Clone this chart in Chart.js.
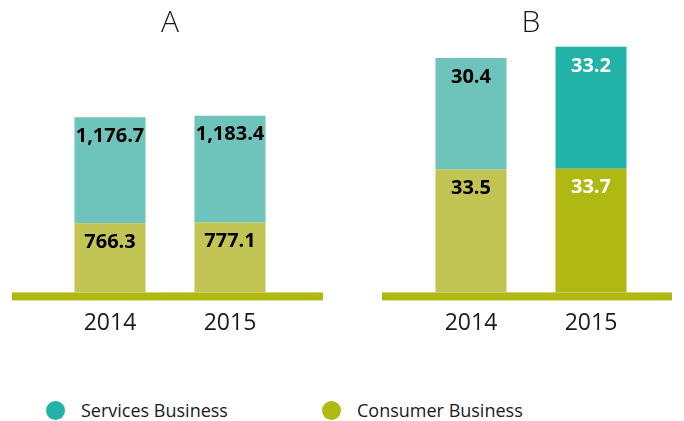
<!DOCTYPE html>
<html>
<head>
<meta charset="utf-8">
<script src="https://cdn.jsdelivr.net/npm/chart.js@4/dist/chart.umd.min.js"></script>
<style>
    html, body { margin: 0; padding: 0; background: #ffffff; }
    body { width: 684px; height: 421px; position: relative; overflow: hidden; font-family: "Open Sans", sans-serif; }
    .panel { position: absolute; top: 0; width: 342px; height: 354px; }
    #panelA { left: 0; }
    #panelB { left: 342px; }
    .legend-item { position: absolute; top: 398px; display: flex; align-items: center; font-size: 18px; color: #1a1a1a; }
    .legend-item .dot { width: 19px; height: 19px; border-radius: 50%; margin-right: 16px; }
</style>
</head>
<body>
<div class="panel" id="panelA"><canvas id="chartA"></canvas></div>
<div class="panel" id="panelB"><canvas id="chartB"></canvas></div>
<div class="legend-item" style="left:46px"><span class="dot" style="background:#22b2a8"></span>Services Business</div>
<div class="legend-item" style="left:322px"><span class="dot" style="background:#b0b812"></span>Consumer Business</div>

<script>
const years = ['2014', '2015'];
const panelTitles = ['A', 'B'];
const consumerA = [766.3, 777.1];
const servicesA = [1176.7, 1183.4];
const consumerB = [33.5, 33.7];
const servicesB = [30.4, 33.2];

const colors = {
    servicesLight: '#6ec4ba',
    servicesDark: '#22b2a8',
    consumerLight: '#c2c453',
    consumerDark: '#b0b812',
    baseline: '#b0b812',
    text: '#1a1a1a'
};

function formatValue(value) {
    return value.toLocaleString('en-US', { minimumFractionDigits: 1, maximumFractionDigits: 1 });
}

const baselinePlugin = {
    id: 'baseline',
    beforeDatasetsDraw(chart, args, opts) {
        const ctx = chart.ctx;
        const y = chart.scales.y.getPixelForValue(0);
        ctx.save();
        ctx.fillStyle = colors.baseline;
        ctx.fillRect(opts.left, y, opts.right - opts.left, 8);
        ctx.restore();
    }
};

const valueLabelPlugin = {
    id: 'valueLabels',
    afterDatasetsDraw(chart) {
        const ctx = chart.ctx;
        ctx.save();
        ctx.font = 'bold 20px "Open Sans", sans-serif';
        ctx.textAlign = 'center';
        ctx.textBaseline = 'middle';
        chart.data.datasets.forEach(function (dataset, di) {
            const meta = chart.getDatasetMeta(di);
            meta.data.forEach(function (bar, i) {
                ctx.fillStyle = dataset.labelColors[i];
                ctx.fillText(formatValue(dataset.data[i]), bar.x, bar.y + 19);
            });
        });
        ctx.restore();
    }
};

function buildPanel(canvasId, title, consumer, services, yMax, consumerColors, servicesColors, labelColors, padding, baseline) {
    return new Chart(document.getElementById(canvasId), {
        type: 'bar',
        data: {
            labels: years,
            datasets: [
                {
                    label: 'Consumer Business',
                    data: consumer,
                    backgroundColor: consumerColors,
                    labelColors: labelColors,
                    borderWidth: 0
                },
                {
                    label: 'Services Business',
                    data: services,
                    backgroundColor: servicesColors,
                    labelColors: labelColors,
                    borderWidth: 0
                }
            ]
        },
        options: {
            responsive: true,
            maintainAspectRatio: false,
            animation: false,
            categoryPercentage: 0.592,
            barPercentage: 1,
            layout: {
                padding: { left: padding.left, right: padding.right, top: 5, bottom: 0 }
            },
            plugins: {
                legend: { display: false },
                tooltip: { enabled: false },
                title: {
                    display: true,
                    text: title,
                    color: colors.text,
                    font: { family: '"Open Sans", sans-serif', size: 30, weight: '300' },
                    padding: { top: 0, bottom: 0 }
                },
                baseline: baseline
            },
            scales: {
                x: {
                    stacked: true,
                    grid: { display: false, drawTicks: false },
                    border: { display: false },
                    ticks: {
                        color: colors.text,
                        padding: 17,
                        font: { family: '"Open Sans", sans-serif', size: 23 }
                    }
                },
                y: {
                    stacked: true,
                    display: false,
                    min: 0,
                    max: yMax
                }
            }
        },
        plugins: [baselinePlugin, valueLabelPlugin]
    });
}

buildPanel('chartA', panelTitles[0], consumerA, servicesA, 2790,
    [colors.consumerLight, colors.consumerLight],
    [colors.servicesLight, colors.servicesLight],
    ['#000000', '#000000'],
    { left: 50, right: 52 },
    { left: 12, right: 323 });

buildPanel('chartB', panelTitles[1], consumerB, servicesB, 68.5,
    [colors.consumerLight, colors.consumerDark],
    [colors.servicesLight, colors.servicesDark],
    ['#000000', '#ffffff'],
    { left: 69, right: 33 },
    { left: 40, right: 330 });
</script>
</body>
</html>
